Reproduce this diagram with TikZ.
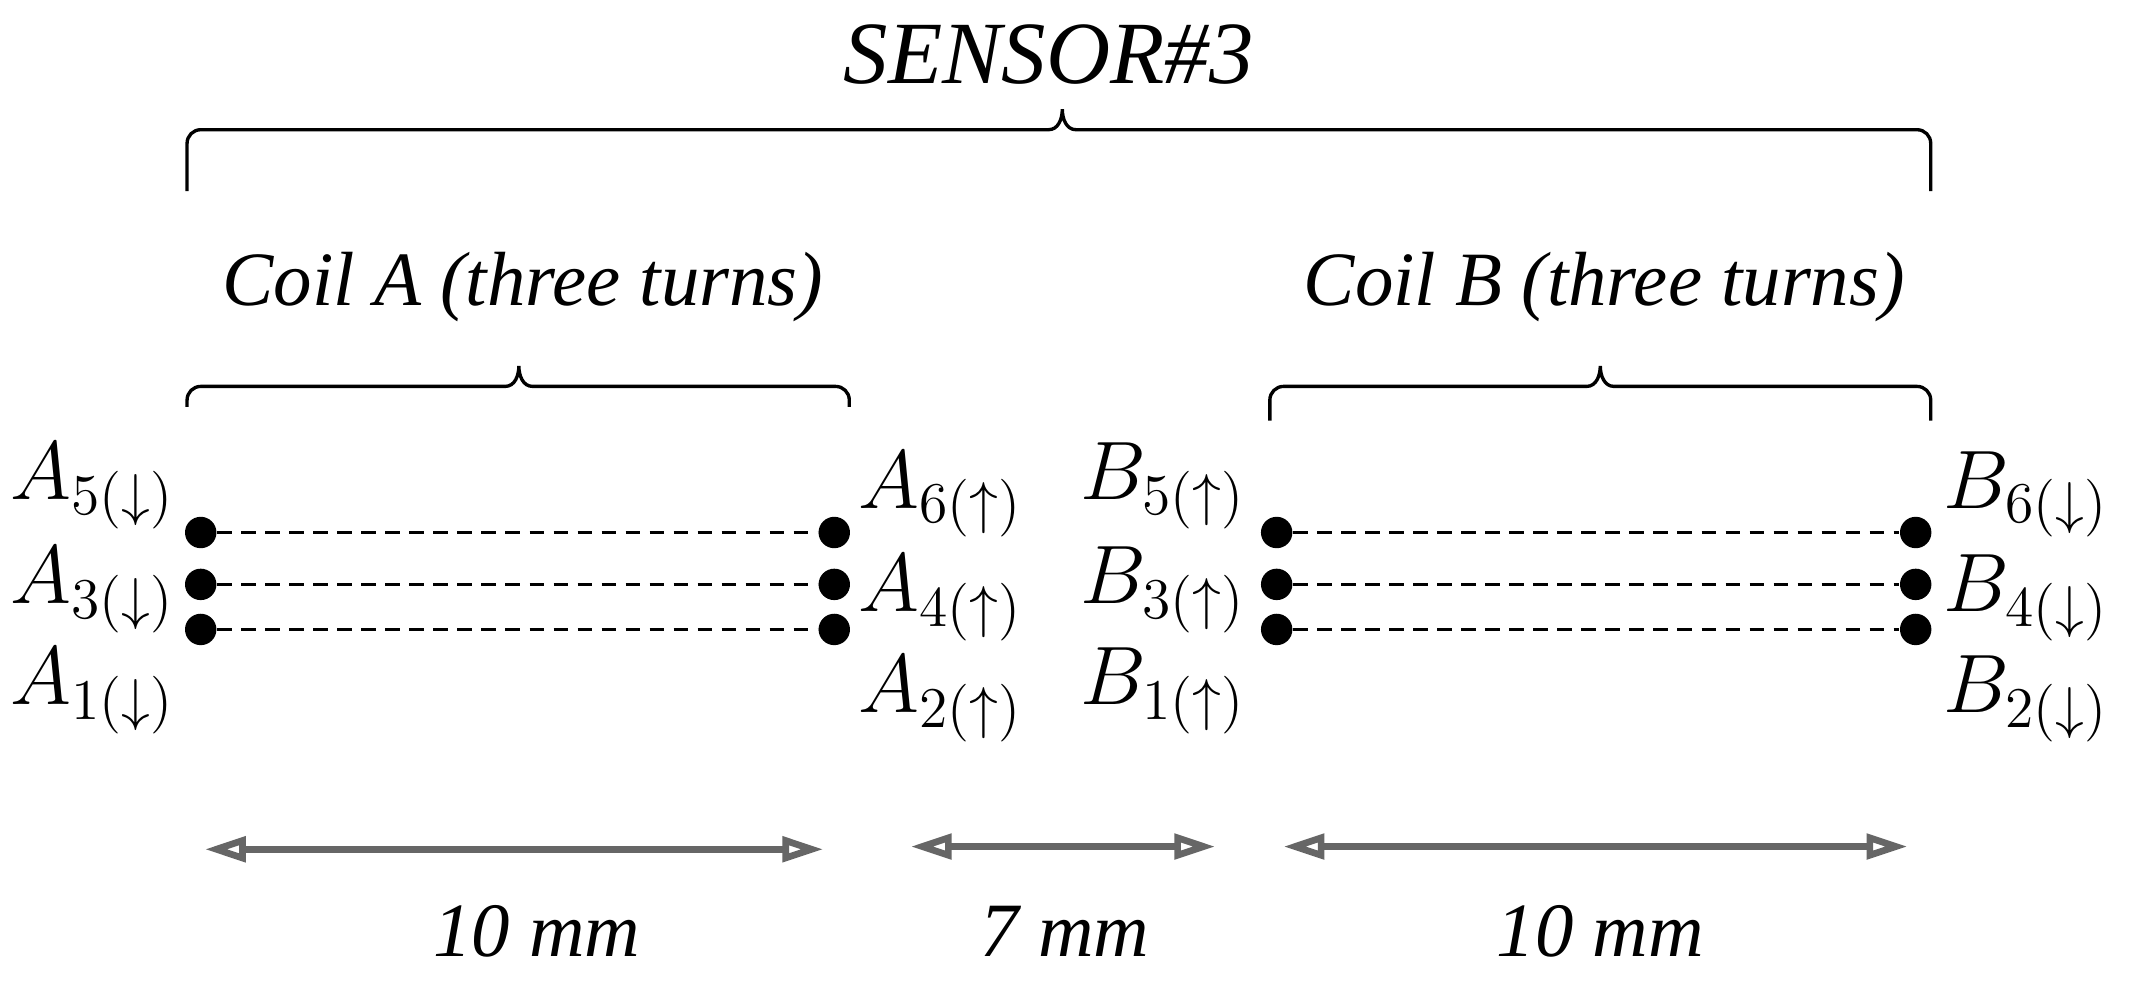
\documentclass[tikz,border=0pt]{standalone}
\usepackage{fontspec}
\newfontfamily\capfont{Liberation Serif}
\usetikzlibrary{arrows.meta}
\begin{document}
\begin{tikzpicture}[x=0.01cm,y=-0.01cm,
  lbl/.style={font=\fontsize{17}{20}\selectfont},
  ital/.style={font=\fontsize{16}{20}\selectfont\capfont\itshape},
  dot/.style={circle,fill=black,inner sep=0pt,minimum width=0.23cm,minimum height=0.2cm},
  wire/.style={densely dashed,line width=0.6pt},
  br/.style={line width=0.7pt},
  dim/.style={line width=1.4pt,gray!80!black,{Triangle[open,length=0.3cm,width=0.18cm]}-{Triangle[open,length=0.3cm,width=0.18cm]}}]
\useasboundingbox (0,0) rectangle (1568,719);
\node[ital,font=\fontsize{18.5}{22}\selectfont\capfont\itshape] (s) at (768,40) {SENSOR\#3};
\draw[br] (137,140) -- (137,105) to[out=90,in=180] (147,95) -- (768,95) to[out=0,in=-90] (778,80)
  to[out=-90,in=180] (788,95) -- (1404,95) to[out=0,in=90] (1414,105) -- (1414,140);
\node[ital] (ca) at (383,210) {Coil A (three turns)};
\node[ital] (cb) at (1175,210) {Coil B (three turns)};
\draw[br] (137,298) -- (137,293) to[out=90,in=180] (147,283) -- (370,283) to[out=0,in=-90] (380,268)
  to[out=-90,in=180] (390,283) -- (612,283) to[out=0,in=90] (622,293) -- (622,298);
\draw[br] (930,308) -- (930,293) to[out=90,in=180] (940,283) -- (1162,283) to[out=0,in=-90] (1172,268)
  to[out=-90,in=180] (1182,283) -- (1404,283) to[out=0,in=90] (1414,293) -- (1414,308);
\foreach \n/\y in {1/390,2/428,3/461}{
  \node[dot] (al\n) at (147,\y) {};
  \node[dot] (ar\n) at (611,\y) {};
  \node[dot] (bl\n) at (935,\y) {};
  \node[dot] (brr\n) at (1403,\y) {};
  \draw[wire] (al\n) -- (ar\n);
  \draw[wire] (bl\n) -- (brr\n);
}
\node[lbl] (a5) at (68,356) {$A_{5(\downarrow)}$};
\node[lbl] (a3) at (68,432) {$A_{3(\downarrow)}$};
\node[lbl] (a1) at (68,506) {$A_{1(\downarrow)}$};
\node[lbl] (a6) at (689,362) {$A_{6(\uparrow)}$};
\node[lbl] (a4) at (689,438) {$A_{4(\uparrow)}$};
\node[lbl] (a2) at (689,512) {$A_{2(\uparrow)}$};
\node[lbl] (b5) at (852,356) {$B_{5(\uparrow)}$};
\node[lbl] (b3) at (852,432) {$B_{3(\uparrow)}$};
\node[lbl] (b1) at (852,506) {$B_{1(\uparrow)}$};
\node[lbl] (b6) at (1484,362) {$B_{6(\downarrow)}$};
\node[lbl] (b4) at (1484,438) {$B_{4(\downarrow)}$};
\node[lbl] (b2) at (1484,512) {$B_{2(\downarrow)}$};
\coordinate (d1a) at (150,622); \coordinate (d1b) at (603,622);
\coordinate (d2a) at (667,620); \coordinate (d2b) at (890,620);
\coordinate (d3a) at (940,620); \coordinate (d3b) at (1397,620);
\draw[dim] (d1a) -- (d1b);
\draw[dim] (d2a) -- (d2b);
\draw[dim] (d3a) -- (d3b);
\node[ital] (t1) at (393,682) {10 mm};
\node[ital] (t2) at (780,682) {7 mm};
\node[ital] (t3) at (1172,682) {10 mm};
\end{tikzpicture}
\end{document}
